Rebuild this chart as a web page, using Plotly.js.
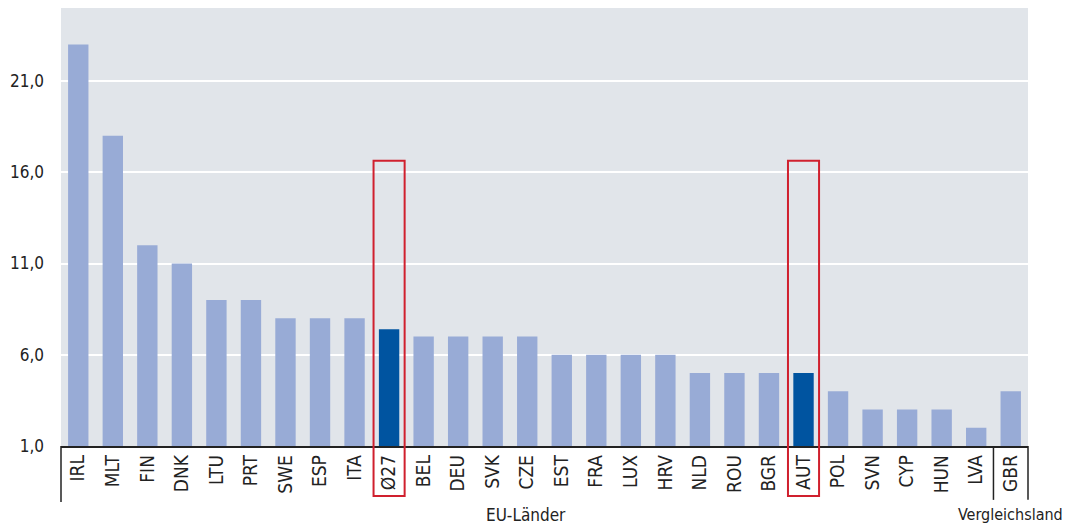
<!DOCTYPE html>
<html><head><meta charset="utf-8">
<script src="https://cdn.plot.ly/plotly-3.0.1.min.js"></script>
<style>body{margin:0;background:#fff}#chart{width:1067px;height:527px}</style>
</head><body><div id="chart"></div>
<script>
const categories = ["IRL","MLT","FIN","DNK","LTU","PRT","SWE","ESP","ITA","Ø27","BEL","DEU","SVK","CZE","EST","FRA","LUX","HRV","NLD","ROU","BGR","AUT","POL","SVN","CYP","HUN","LVA","GBR"];
const values = [23.0,18.0,12.0,11.0,9.0,9.0,8.0,8.0,8.0,7.4,7.0,7.0,7.0,7.0,6.0,6.0,6.0,6.0,5.0,5.0,5.0,5.0,4.0,3.0,3.0,3.0,2.0,4.0];
const highlighted = ["Ø27","AUT"];
const tickValues = [1,6,11,16,21];
const groupLabels = ["EU-Länder","Vergleichsland"];

const FONT = '"Liberation Sans Narrow","DejaVu Sans Condensed","Roboto Condensed",sans-serif';
const colors = categories.map(c => highlighted.includes(c) ? '#0054a0' : '#98abd6');
const base = 1;

const trace = {
  type: 'bar',
  x: categories,
  y: values.map(v => v - base),
  base: base,
  marker: {color: colors},
  hoverinfo: 'x+y'
};

const idx = c => categories.indexOf(c);
const shapes = [];
highlighted.forEach(c => {
  shapes.push({type:'rect', xref:'x', yref:'paper', x0: idx(c)-0.45, x1: idx(c)+0.45, y0: -0.114, y1: 0.651,
    line:{color:'#d0202e', width:2}, fillcolor:'rgba(0,0,0,0)', layer:'above'});
});
shapes.push({type:'line', xref:'paper', yref:'paper', x0:0, x1:0, y0:0, y1:-0.128, line:{color:'#222', width:1.5}});
shapes.push({type:'line', xref:'x', yref:'paper', x0:categories.length-1.5, x1:categories.length-1.5, y0:0, y1:-0.123, line:{color:'#222', width:1.5}});
shapes.push({type:'line', xref:'paper', yref:'paper', x0:1, x1:1, y0:0, y1:-0.123, line:{color:'#222', width:1.5}});

const layout = {
  width:1067, height:527,
  margin:{l:61, r:39, t:8, b:81},
  paper_bgcolor:'#ffffff',
  plot_bgcolor:'#e1e5ea',
  showlegend:false,
  bargap:0.41,
  separators:',.',
  font:{family:FONT, color:'#222', size:16},
  xaxis:{type:'category', tickangle:-90, tickfont:{family:FONT, size:19, color:'#222'},
    showline:true, linecolor:'#222', linewidth:1.5, ticks:'', showgrid:false, range:[-0.5, categories.length-0.5]},
  yaxis:{range:[1,25], tickvals:tickValues, tickformat:'.1f', showgrid:true, gridcolor:'#ffffff', gridwidth:2,
    zeroline:false, showline:false, ticks:'', tickfont:{family:FONT, size:17, color:'#222'}, ticklabelstandoff:16},
  shapes: shapes,
  annotations:[
    {text:groupLabels[0], xref:'paper', yref:'paper', x:(526-61)/967, y:-0.157, xanchor:'center', yanchor:'middle', showarrow:false, font:{family:FONT, size:17, color:'#222'}},
    {text:groupLabels[1], xref:'x', yref:'paper', x:categories.length-1, y:-0.157, xanchor:'center', yanchor:'middle', showarrow:false, font:{family:FONT, size:16, color:'#222'}}
  ]
};
Plotly.newPlot('chart',[trace],layout,{displayModeBar:false, staticPlot:true});
</script></body></html>
